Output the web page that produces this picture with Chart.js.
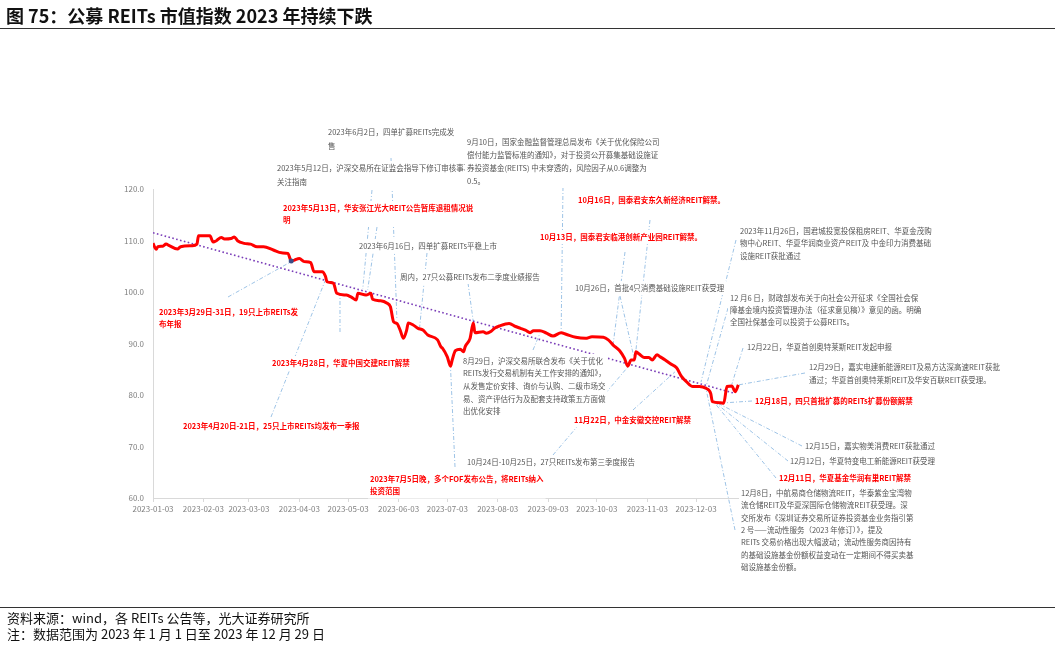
<!DOCTYPE html>
<html>
<head>
<meta charset="utf-8">
<script src="https://cdn.jsdelivr.net/npm/chart.js@4/dist/chart.umd.min.js"></script>
<style>
  body { margin: 0; background: #fff; }
  #wrap { position: relative; width: 1055px; height: 650px; overflow: hidden;
          font-family: "Noto Sans CJK SC", "Noto Sans", sans-serif; }
  canvas { position: absolute; left: 0; top: 0; }
  .title { position: absolute; left: 6px; top: 4px; font-size: 18px; font-weight: bold;
           line-height: 23px; color: #111; white-space: nowrap; }
  .rule { position: absolute; left: 0; width: 1055px; height: 0; border-top: 1.5px solid #333; }
  .foot { position: absolute; left: 7px; font-size: 13px; line-height: 16px; color: #111; white-space: nowrap; }
</style>
</head>
<body>
<div id="wrap">
  <canvas id="reitChart" width="1055" height="650"></canvas>
  <div class="title">图 75：公募 REITs 市值指数 2023 年持续下跌</div>
  <div class="rule" style="top:28px"></div>
  <div class="rule" style="top:607px; border-top-width:1px"></div>
  <div class="foot" style="top:610px">资料来源：wind，各 REITs 公告等，光大证券研究所</div>
  <div class="foot" style="top:626px">注：数据范围为 2023 年 1 月 1 日至 2023 年 12 月 29 日</div>
</div>
<script>
// 公募REITs市值指数（读图估算）
const dates = [
  '2023-01-03', '2023-01-05', '2023-01-06', '2023-01-09', '2023-01-11', '2023-01-13',
  '2023-01-18', '2023-01-20', '2023-01-27', '2023-01-30', '2023-01-31', '2023-02-02',
  '2023-02-07', '2023-02-09', '2023-02-11', '2023-02-14', '2023-02-16', '2023-02-20',
  '2023-02-22', '2023-02-24', '2023-02-28', '2023-03-04', '2023-03-08', '2023-03-12',
  '2023-03-18', '2023-03-23', '2023-03-27', '2023-03-29', '2023-03-31', '2023-04-03',
  '2023-04-06', '2023-04-10', '2023-04-12', '2023-04-17', '2023-04-19', '2023-04-20',
  '2023-04-24', '2023-04-26', '2023-05-02', '2023-05-05', '2023-05-08', '2023-05-09',
  '2023-05-14', '2023-05-17', '2023-05-18', '2023-05-23', '2023-05-27', '2023-05-29',
  '2023-05-31', '2023-06-02', '2023-06-04', '2023-06-06', '2023-06-08', '2023-06-09',
  '2023-06-12', '2023-06-15', '2023-06-18', '2023-06-21', '2023-06-27', '2023-06-29',
  '2023-06-30', '2023-07-03', '2023-07-05', '2023-07-06', '2023-07-08', '2023-07-11',
  '2023-07-13', '2023-07-14', '2023-07-17', '2023-07-19', '2023-07-20', '2023-07-25',
  '2023-07-27', '2023-07-30', '2023-08-01', '2023-08-04', '2023-08-10', '2023-08-14',
  '2023-08-17', '2023-08-20', '2023-08-23', '2023-08-25', '2023-08-29', '2023-09-02',
  '2023-09-06', '2023-09-11', '2023-09-14', '2023-09-20', '2023-09-26', '2023-09-30',
  '2023-10-07', '2023-10-10', '2023-10-13', '2023-10-17', '2023-10-20', '2023-10-22',
  '2023-10-24', '2023-10-26', '2023-10-27', '2023-10-29', '2023-11-01', '2023-11-04',
  '2023-11-06', '2023-11-09', '2023-11-11', '2023-11-14', '2023-11-17', '2023-11-21',
  '2023-11-24', '2023-11-27', '2023-12-01', '2023-12-05', '2023-12-09', '2023-12-12',
  '2023-12-13', '2023-12-18', '2023-12-20', '2023-12-22', '2023-12-25', '2023-12-27',
  '2023-12-29'
];
const indexValues = [
  109.45, 108.3, 108.8, 108.9, 109.3, 109.0,
  108.35, 108.8, 109.0, 109.3, 110.9, 110.9,
  110.9, 109.7, 109.96, 110.6, 110.3, 110.4,
  110.7, 109.96, 109.45, 109.3, 108.8, 108.8,
  108.15, 107.6, 107.5, 106.0, 106.2, 106.5,
  105.9, 105.7, 103.95, 103.95, 103.1, 102.0,
  101.7, 99.75, 99.4, 99.0, 98.45, 99.75,
  99.4, 99.75, 98.6, 98.3, 97.8, 97.15,
  94.2, 93.9, 92.6, 91.0, 92.6, 94.0,
  93.6, 92.95, 92.6, 91.65, 90.7, 89.4,
  89.1, 87.4, 85.6, 86.8, 88.6, 88.9,
  88.4, 89.4, 91.0, 94.0, 92.1, 92.3,
  92.0, 92.4, 92.95, 93.4, 93.9, 93.3,
  92.95, 92.6, 92.1, 92.5, 92.5, 92.0,
  91.45, 92.1, 91.8, 91.2, 91.0, 91.3,
  91.2, 90.7, 89.7, 88.6, 87.1, 85.6,
  86.8, 86.8, 88.4, 87.95, 87.3, 87.3,
  86.8, 87.8, 87.4, 86.8, 86.1, 85.3,
  83.6, 82.6, 81.65, 81.65, 81.3, 80.3,
  78.7, 78.5, 78.4, 81.65, 81.75, 80.65,
  81.95
];
// 趋势线（紫色虚线）
const trendDates = ['2023-01-03', '2023-12-27'];
const trendValues = [111.5, 80.3];
const markedDate = '2023-03-29';

const tickDates = [
  '2023-01-03', '2023-02-03', '2023-03-03', '2023-04-03', '2023-05-03', '2023-06-03',
  '2023-07-03', '2023-08-03', '2023-09-03', '2023-10-03', '2023-11-03', '2023-12-03'
];
const yTicks = [60, 70, 80, 90, 100, 110, 120];

const FONT = '"Noto Sans CJK SC", "Noto Sans", sans-serif';

function dayOfYear(s) {
  return (Date.parse(s + 'T00:00:00Z') - Date.UTC(2023, 0, 1)) / 86400000;
}

// 注释：文字位置（像素），引线指向曲线上的日期/数值
const notes = [
  { text: ['2023年6月2日，四单扩募REITs完成发', '售'], x: 328, y: 132, lh: 14, from: [391, 158], to: ['2023-06-02', 94.6] },
  { text: ['2023年5月12日，沪深交易所在证监会指导下修订审核事项', '关注指南'], x: 277, y: 168, lh: 14, from: [372, 190], to: ['2023-05-12', 100.6] },
  { text: ['9月10日，国家金融监督管理总局发布《关于优化保险公司', '偿付能力监管标准的通知》，对于投资公开募集基础设施证',
           '券投资基金(REITS) 中未穿透的，风险因子从0.6调整为', '0.5。'], x: 467, y: 142, lh: 13, from: [563, 187], to: ['2023-09-11', 92.4] },
  { text: ['2023年5月13日，华安张江光大REIT公告暂库退租情况说', '明'], x: 283, y: 208, lh: 12, red: true, from: [377, 227], to: ['2023-05-15', 100.4] },
  { text: ['10月16日，国泰君安东久新经济REIT解禁。'], x: 578, y: 200, red: true, from: [650, 220], to: ['2023-10-27', 88.7] },
  { text: ['10月13日，国泰君安临港创新产业园REIT解禁。'], x: 540, y: 237, red: true, from: [625, 252], to: ['2023-10-13', 89.9] },
  { text: ['2023年11月26日，国君城投宽投保租房REIT、华夏金茂购', '物中心REIT、华夏华润商业资产REIT及 中金印力消费基础', '设施REIT获批通过'],
    x: 740, y: 231, lh: 12.5, from: [736, 240], to: ['2023-12-06', 82.5] },
  { text: ['2023年6月16日，四单扩募REITs平稳上市'], x: 359, y: 246, from: [427, 253], to: ['2023-06-16', 93.2] },
  { text: ['周内，27只公募REITs发布二季度业绩报告'], x: 400, y: 277, from: [468, 283], to: ['2023-07-19', 94.2] },
  { text: ['10月26日，首批4只消费基础设施REIT获受理'], x: 575, y: 288, from: [620, 296], to: ['2023-10-26', 87.0] },
  { text: ['12 月6 日，财政部发布关于向社会公开征求《全国社会保', '障基金境内投资管理办法（征求意见稿）》意见的函。明确', '全国社保基金可以投资于公募REITs。'],
    x: 730, y: 298, lh: 12.3, from: [728, 308], to: ['2023-12-09', 81.5] },
  { text: ['2023年3月29日-31日，19只上市REITs发', '布年报'], x: 159, y: 312, lh: 12, red: true, from: [228, 297], to: ['2023-03-29', 105.9] },
  { text: ['12月22日，华夏首创奥特莱斯REIT发起申报'], x: 747, y: 347, from: [743, 348], to: ['2023-12-25', 82.1] },
  { text: ['2023年4月28日，华夏中国交建REIT解禁'], x: 272, y: 363, red: true, from: [340, 332], to: ['2023-04-28', 99.8] },
  { text: ['8月29日，沪深交易所联合发布《关于优化', 'REITs发行交易机制有关工作安排的通知》，', '从发售定价安排、询价与认购、二级市场交',
           '易、资产评估行为及配套支持政策五方面做', '出优化安排'], x: 463, y: 361, lh: 12.6, from: [533, 350], to: ['2023-08-29', 92.0] },
  { text: ['12月29日，嘉实电建新能源REIT及易方达深高速REIT获批', '通过；华夏首创奥特莱斯REIT及华安百联REIT获受理。'],
    x: 809, y: 367, lh: 13, from: [805, 373], to: ['2023-12-28', 81.9] },
  { text: ['12月18日，四只首批扩募的REITs扩募份额解禁'], x: 755, y: 401, red: true, from: [752, 401], to: ['2023-12-17', 78.4] },
  { text: ['2023年4月20日-21日，25只上市REITs均发布一季报'], x: 183, y: 426, red: true, from: [271, 417], to: ['2023-04-19', 102.3] },
  { text: ['11月22日，中金安徽交控REIT解禁'], x: 574, y: 420, red: true, from: [633, 410], to: ['2023-11-20', 84.5] },
  { text: ['12月15日，嘉实物美消费REIT获批通过'], x: 805, y: 446, from: [802, 446], to: ['2023-12-17', 78.3] },
  { text: ['12月12日，华夏特变电工新能源REIT获受理'], x: 790, y: 461, from: [788, 461], to: ['2023-12-14', 78.7] },
  { text: ['10月24日-10月25日，27只REITs发布第三季度报告'], x: 467, y: 462, from: [553, 455], to: ['2023-10-23', 85.8] },
  { text: ['12月11日，华夏基金华润有巢REIT解禁'], x: 779, y: 478, red: true, from: [776, 478], to: ['2023-12-13', 79.0] },
  { text: ['2023年7月5日晚，多个FOF发布公告，将REITs纳入', '投资范围'], x: 370, y: 479, lh: 12.5, red: true, from: [455, 467], to: ['2023-07-05', 85.2] },
  { text: ['12月8日，中航易商仓储物流REIT，华泰紫金宝湾物', '流仓储REIT及华夏深国际仓储物流REIT获受理。深', '交所发布《深圳证券交易所证券投资基金业务指引第',
           '2 号——流动性服务（2023 年修订）》，提及', 'REITs 交易价格出现大幅波动；流动性服务商因持有', '的基础设施基金份额权益变动在一定期间不得买卖基', '础设施基金份额。'],
    x: 741, y: 493, lh: 12.4, from: [735, 530], to: ['2023-12-09', 81.4] }
];

const notesPlugin = {
  id: 'notes',
  beforeDatasetsDraw(chart) {
    const { ctx, scales: { x, y } } = chart;
    ctx.save();
    ctx.strokeStyle = '#9dc3e6';
    ctx.lineWidth = 1;
    ctx.setLineDash([4, 2, 1, 2]);
    notes.forEach(n => {
      ctx.beginPath();
      ctx.moveTo(n.from[0], n.from[1]);
      ctx.lineTo(x.getPixelForValue(dayOfYear(n.to[0])), y.getPixelForValue(n.to[1]));
      ctx.stroke();
    });
    ctx.restore();
  },
  afterDraw(chart) {
    const ctx = chart.ctx;
    ctx.save();
    ctx.textBaseline = 'middle';
    notes.forEach(n => {
      const lh = n.lh || 12.5;
      ctx.font = (n.red ? 'bold ' : '') + '7.5px ' + FONT;
      const w = Math.max(...n.text.map(t => ctx.measureText(t).width));
      ctx.fillStyle = '#fff';
      ctx.fillRect(n.x - 2, n.y - 7, w + 4, (n.text.length - 1) * lh + 14);
      ctx.fillStyle = n.red ? '#ff0000' : '#555555';
      n.text.forEach((t, i) => ctx.fillText(t, n.x, n.y + i * lh));
    });
    ctx.restore();
  }
};

const ctx = document.getElementById('reitChart').getContext('2d');
new Chart(ctx, {
  type: 'line',
  data: {
    datasets: [{
      label: '公募REITs市值指数',
      data: dates.map((d, i) => ({ x: dayOfYear(d), y: indexValues[i] })),
      borderColor: '#ff0000',
      borderWidth: 3,
      cubicInterpolationMode: 'monotone',
      pointRadius: c => (dates[c.dataIndex] === markedDate ? 2.5 : 0),
      pointBackgroundColor: '#3b4e87',
      pointBorderWidth: 0
    }, {
      label: '趋势',
      data: trendDates.map((d, i) => ({ x: dayOfYear(d), y: trendValues[i] })),
      borderColor: '#7a3db8',
      borderWidth: 1.6,
      borderDash: [1.6, 2.4],
      pointRadius: 0
    }]
  },
  options: {
    responsive: false,
    animation: false,
    devicePixelRatio: 1,
    layout: { padding: { left: 0, top: 189, right: 315, bottom: 122 } },
    plugins: { legend: { display: false }, tooltip: { enabled: false } },
    scales: {
      x: {
        type: 'linear',
        min: 2,
        max: 363,
        afterBuildTicks: axis => { axis.ticks = tickDates.map(d => ({ value: dayOfYear(d) })); },
        afterFit: s => { s.height = 30; },
        grid: { drawOnChartArea: false, drawTicks: true, tickLength: 4, color: '#d9d9d9' },
        border: { color: '#d9d9d9' },
        ticks: {
          autoSkip: false, maxRotation: 0, padding: 2, color: '#7f7f7f',
          font: { family: FONT, size: 8 },
          callback: v => tickDates.find(d => dayOfYear(d) === v) || ''
        }
      },
      y: {
        min: 60,
        max: 120,
        afterBuildTicks: axis => { axis.ticks = yTicks.map(v => ({ value: v })); },
        afterFit: s => { s.width = 153; },
        grid: { drawOnChartArea: false, drawTicks: false },
        border: { color: '#d9d9d9' },
        ticks: {
          padding: 9, color: '#7f7f7f',
          font: { family: FONT, size: 8 },
          callback: v => v.toFixed(1)
        }
      }
    }
  },
  plugins: [notesPlugin]
});
</script>
</body>
</html>
